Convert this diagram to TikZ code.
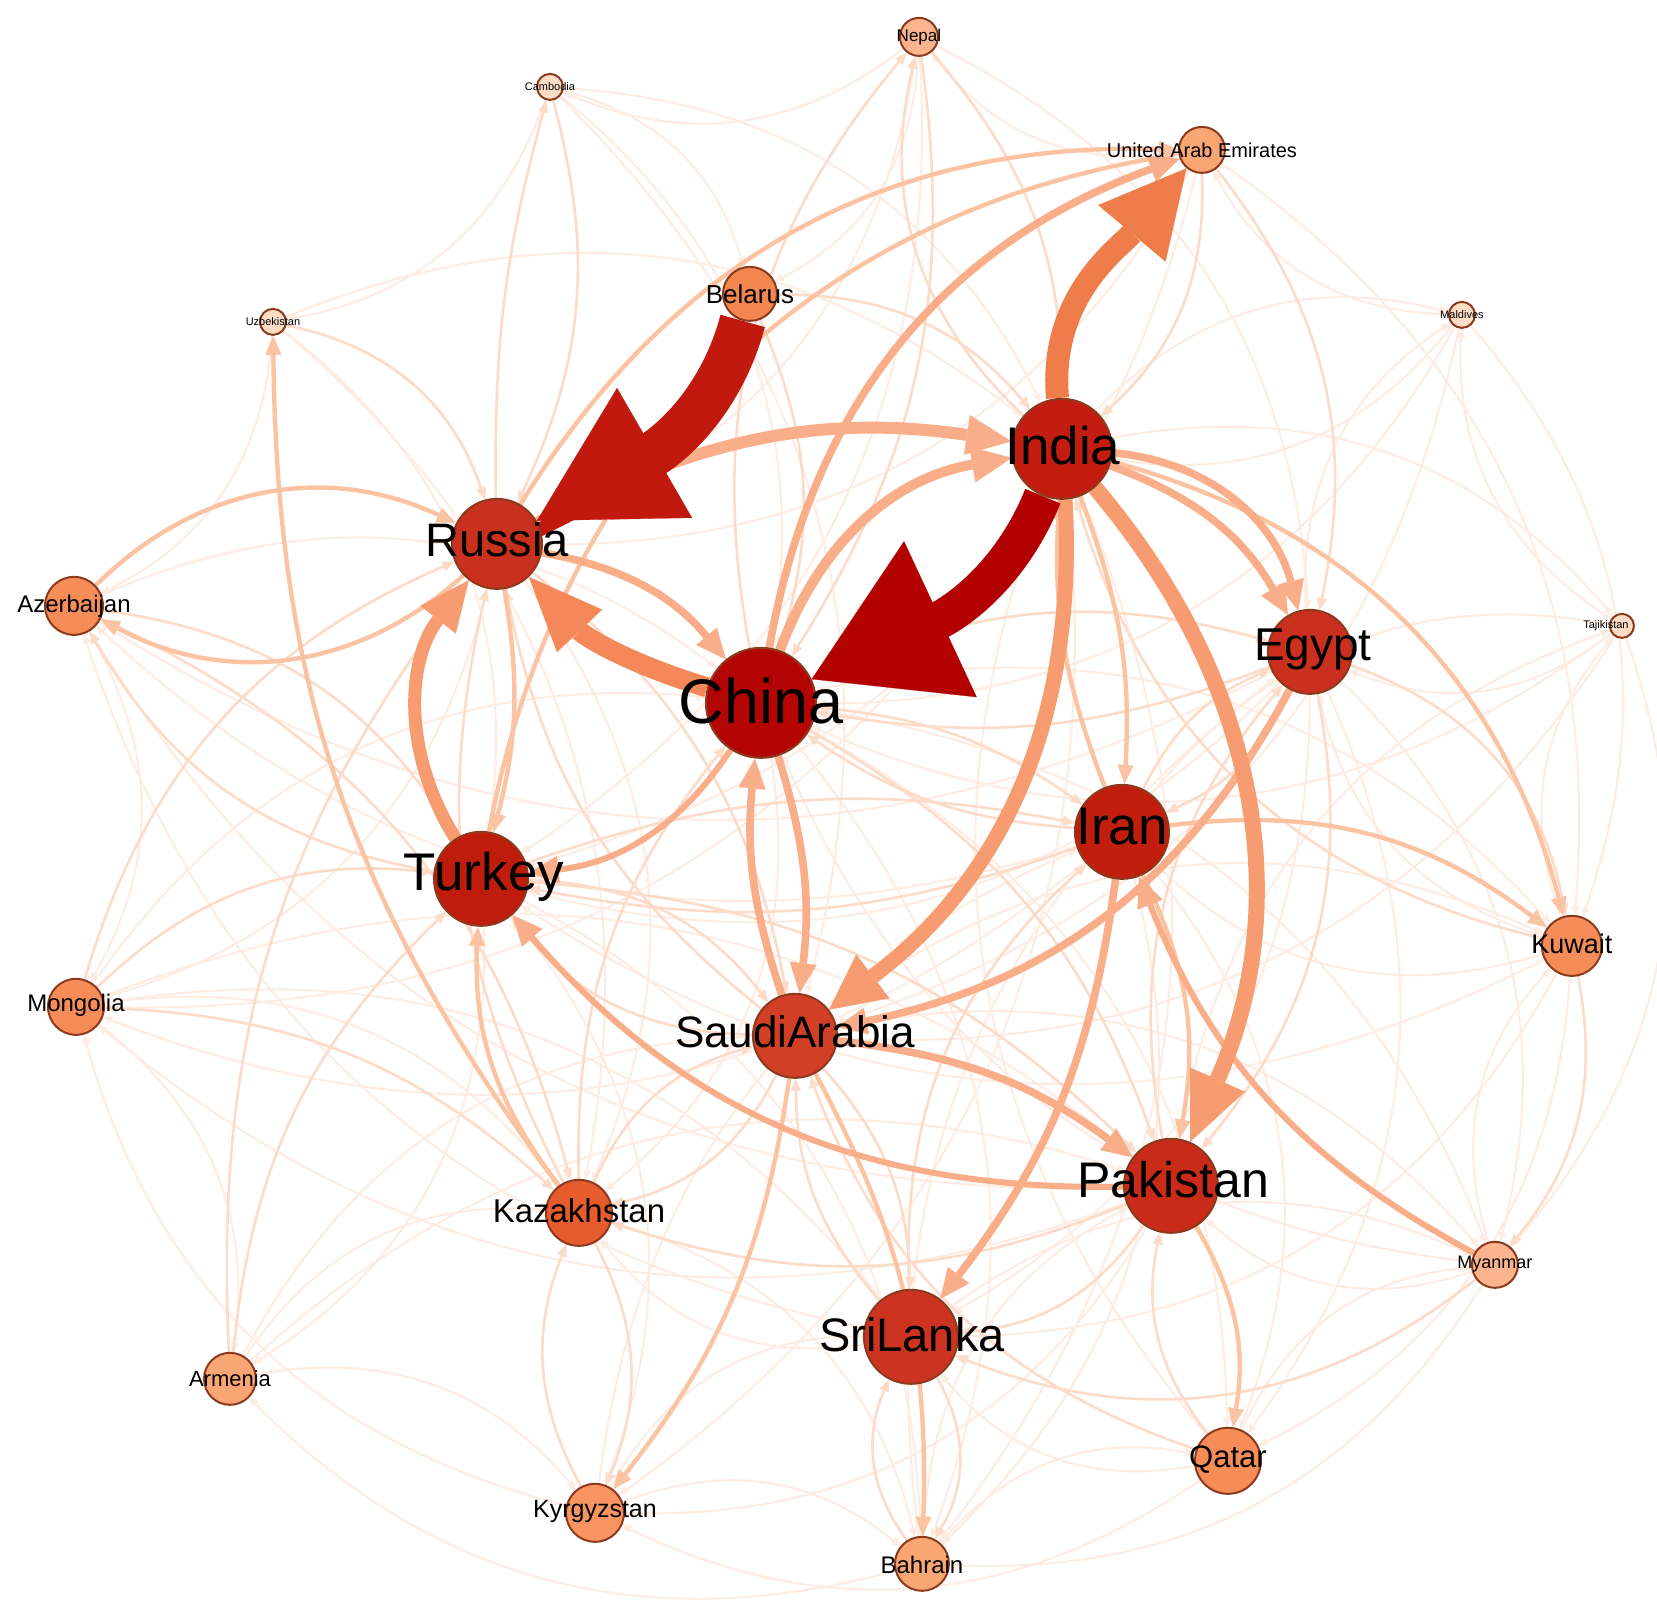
\documentclass[tikz,border=0pt]{standalone}
\usepackage{fontspec}
\setmainfont{Liberation Sans}
\usetikzlibrary{arrows.meta}
\pgfdeclarelayer{edges}
\pgfdeclarelayer{bg}
\pgfsetlayers{bg,edges,main}
\definecolor{cFaint}{HTML}{FDECE2}
\definecolor{cPale}{HTML}{FCDCC8}
\definecolor{cLight}{HTML}{FBC3A2}
\definecolor{cMid}{HTML}{F9AD88}
\definecolor{cMid2}{HTML}{F79C70}
\definecolor{cOrange}{HTML}{F48858}
\definecolor{cOrange2}{HTML}{EF7D4B}
\definecolor{cDarkA}{HTML}{C2190E}
\definecolor{cDarkB}{HTML}{B30000}
\definecolor{nbord}{HTML}{8C3A1E}
\definecolor{fChina}{HTML}{B50404}
\definecolor{fIndia}{HTML}{C21D10}
\definecolor{fRussia}{HTML}{C9301D}
\definecolor{fTurkey}{HTML}{C01C0C}
\definecolor{fIran}{HTML}{C11E0E}
\definecolor{fEgypt}{HTML}{CB2F1D}
\definecolor{fSaudi}{HTML}{D13F26}
\definecolor{fPak}{HTML}{C92B18}
\definecolor{fSri}{HTML}{CC3421}
\definecolor{fKaz}{HTML}{E65C2C}
\definecolor{fBel}{HTML}{F3874F}
\definecolor{fOr}{HTML}{F68D58}
\definecolor{fKyr}{HTML}{F89461}
\definecolor{fLt}{HTML}{F9A574}
\definecolor{fNep}{HTML}{FBB48E}
\definecolor{fTiny}{HTML}{FDDDC5}
\begin{document}
\begin{tikzpicture}[x=0.05pt,y=0.05pt,
 nd/.style={circle,draw=nbord,line width=0.1pt,inner sep=0pt,minimum size=#1},
 lbl/.style={font=\fontsize{#1}{#1}\selectfont,inner sep=0pt,text=black},
 fe/.style={draw=cFaint,line width=0.1pt,-{Triangle[length=0.45pt,width=0.4pt,line width=0.01pt]}},
 pe/.style={draw=cPale,line width=0.13pt,-{Triangle[length=0.6pt,width=0.5pt,line width=0.01pt]}},
 le/.style={draw=cLight,line width=0.22pt,-{Triangle[length=0.95pt,width=0.8pt,line width=0.01pt]}},
 me/.style={draw=cMid,line width=0.38pt,-{Triangle[length=1.5pt,width=1.35pt,line width=0.01pt]}},
]
\useasboundingbox (0,0) rectangle (1657,1608);
\begin{pgfonlayer}{bg}
\fill[white] (0,0) rectangle (1657,1608);
\end{pgfonlayer}

% nodes
\node[nd=1.9pt,fill=fNep]   (nep) at (919,1571) {};
\node[nd=1.3pt,fill=fTiny]  (cam) at (550,1521) {};
\node[nd=2.3pt,fill=fLt]    (uae) at (1202,1458) {};
\node[nd=2.7pt,fill=fBel]   (bel) at (750,1314) {};
\node[nd=1.3pt,fill=fTiny]  (uzb) at (273,1286) {};
\node[nd=1.3pt,fill=fTiny]  (mal) at (1462,1293) {};
\node[nd=5pt,fill=fIndia]   (ind) at (1062,1159) {};
\node[nd=4.5pt,fill=fRussia] (rus) at (497,1064) {};
\node[nd=2.9pt,fill=fOr]    (aze) at (74,1002) {};
\node[nd=1.2pt,fill=fTiny]  (taj) at (1622,982) {};
\node[nd=4.2pt,fill=fEgypt] (egy) at (1310,956) {};
\node[nd=5.5pt,fill=fChina] (chn) at (761,905) {};
\node[nd=4.7pt,fill=fIran]  (irn) at (1122,776) {};
\node[nd=4.7pt,fill=fTurkey] (tur) at (481,729) {};
\node[nd=3pt,fill=fOr]      (kuw) at (1572,662) {};
\node[nd=2.8pt,fill=fOr]    (mon) at (76,601) {};
\node[nd=4.2pt,fill=fSaudi] (sau) at (795,572) {};
\node[nd=4.7pt,fill=fPak]   (pak) at (1171,422) {};
\node[nd=3.3pt,fill=fKaz]   (kaz) at (579,395) {};
\node[nd=2.3pt,fill=fNep]   (mya) at (1495,343) {};
\node[nd=4.7pt,fill=fSri]   (sri) at (911,271) {};
\node[nd=2.6pt,fill=fLt]    (arm) at (230,229) {};
\node[nd=3.3pt,fill=fOr]    (qat) at (1228,147) {};
\node[nd=2.9pt,fill=fKyr]   (kyr) at (595,95) {};
\node[nd=2.7pt,fill=fLt]    (bah) at (922,44) {};

\begin{pgfonlayer}{edges}
% faint edges
\foreach \a/\b in {aze/mon, mon/arm, arm/kyr, kyr/bah, bah/qat, qat/mya, mya/kuw, kuw/taj, taj/mal, mal/uae, uae/nep, nep/cam, cam/uzb, uzb/aze, mon/kaz, arm/kaz, kyr/sri, bah/pak, qat/sri, mya/pak, kuw/egy, taj/egy, mal/ind, nep/bel, cam/bel, uzb/rus, ind/taj, ind/mal, egy/mal, irn/taj, pak/taj, sri/mya, kaz/bah, mon/sri, arm/sau, aze/chn, mon/chn, uzb/tur, cam/chn, nep/egy, uae/kuw, mal/kuw, taj/mya, kuw/qat, mya/bah, qat/kyr, bah/arm, kyr/mon, tur/kyr, tur/arm, tur/bah, rus/kaz, rus/mon, chn/kaz, chn/bah, chn/qat, chn/mya, chn/kuw, sau/mya, sau/kuw, sri/kaz, pak/kyr, irn/qat, irn/bah, egy/sri, egy/mya, egy/qat, kuw/sri, kuw/irn, ind/bah, ind/kyr, ind/mon, irn/mon, irn/aze, egy/aze, egy/tur, kuw/tur, pak/aze, pak/mon, sri/aze, taj/chn, mal/chn, uae/rus, cam/ind, uzb/ind, arm/pak, mon/pak, kyr/irn, bah/egy, qat/ind, mya/chn, taj/sau, mal/sau, uae/tur, nep/rus, nep/tur, cam/sau, uzb/kaz}
  \draw[fe] (\a) to[bend left=30] (\b);
% pale edges
\foreach \a/\b/\c in {rus/cam/8, uzb/rus/30, aze/tur/25, mon/rus/25, arm/rus/20, nep/ind/20, ind/nep/30, uae/egy/25, egy/kuw/30, kuw/mya/25, mya/sri/30, bah/sri/30, sri/bah/30, kaz/kyr/25, kyr/kaz/25, pak/sri/25, qat/sau/25, tur/sau/25, tur/pak/20, sau/tur/25, chn/egy/20, chn/pak/20, chn/irn/15, irn/chn/15, irn/tur/15, tur/irn/15, egy/chn/15, kaz/sau/25, sau/kaz/25, kaz/chn/20, rus/sau/20, sau/rus/20, kaz/rus/20, arm/tur/20, mon/tur/25, aze/kaz/25, tur/aze/25, mon/kaz/20, egy/irn/20, irn/egy/20, pak/egy/25, egy/pak/25, sri/irn/25, qat/pak/25, sau/sri/20, sri/sau/20, kuw/ind/30, bel/chn/20, bel/ind/25, uae/ind/25, nep/chn/20, cam/rus/20, chn/nep/25, pak/kaz/20}
  \draw[pe] (\a) to[bend left=\c] (\b);
% light edges
\foreach \a/\b/\c in {aze/rus/35, rus/aze/35, rus/tur/12, ind/kuw/30, irn/kuw/22, kaz/uzb/18, pak/qat/20, irn/pak/18, ind/irn/12, irn/ind/12, sau/kyr/15, rus/uae/30, tur/uae/35, sau/bah/15, kaz/tur/20}
  \draw[le] (\a) to[bend left=\c] (\b);
% medium edges
\foreach \a/\b/\c in {chn/uae/30, ind/egy/20, chn/sau/12, sau/chn/12, sau/pak/15, egy/sau/25, irn/sri/15, ind/egy/35, rus/chn/20}
  \draw[me] (\a) to[bend left=\c] (\b);
\foreach \a/\b/\c in {pak/tur/25, mya/irn/20, chn/tur/25}
  \draw[me,line width=0.3pt] (\a) to[bend left=\c] (\b);
% strong edges
\draw[draw=cMid,line width=0.5pt,-{Triangle[length=2pt,width=1.8pt,line width=0.01pt]}] (chn) to[bend left=30] (ind);
\draw[draw=cMid,line width=0.6pt,-{Triangle[length=2.25pt,width=2pt,line width=0.01pt]}] (rus) to[bend left=18] (ind);
\draw[draw=cMid2,line width=0.65pt,-{Triangle[length=2.5pt,width=2.25pt,line width=0.01pt]}] (tur) to[bend left=35] (rus);
\draw[draw=cMid2,line width=0.75pt,-{Triangle[length=2.75pt,width=2.75pt,line width=0.01pt]}] (ind) to[bend left=28] (sau);
\draw[draw=cMid2,line width=0.8pt,-{Triangle[length=3.4pt,width=3pt,line width=0.01pt]}] (ind) to[bend left=32] (pak);
\draw[draw=cOrange,line width=1pt,-{Triangle[length=3.7pt,width=3.1pt,line width=0.01pt]}] (chn) to[bend left=15] (rus);
\draw[draw=cOrange2,line width=1.15pt,-{Triangle[length=4.25pt,width=4.4pt,line width=0.01pt]}] (ind) to[out=95,in=230] (uae);
\draw[draw=cDarkA,line width=2.3pt,-{Triangle[length=6.8pt,width=7.5pt,line width=0.01pt]}] (bel) to[out=255,in=30] (rus);
\draw[draw=cDarkB,line width=1.9pt,-{Triangle[length=7.1pt,width=8.6pt,line width=0.01pt]}] (ind) to[out=248,in=25] (chn);
\end{pgfonlayer}

% labels
\node[lbl=0.85] (nepL) at (nep) {Nepal};
\node[lbl=0.55] (camL) at (cam) {Cambodia};
\node[lbl=1.0]  (uaeL) at (uae) {United Arab Emirates};
\node[lbl=1.3]  (belL) at (bel) {Belarus};
\node[lbl=0.55] (uzbL) at (uzb) {Uzbekistan};
\node[lbl=0.55] (malL) at (mal) {Maldives};
\node[lbl=2.65] (indL) at (1063,1162) {India};
\node[lbl=2.35] (rusL) at (497,1068) {Russia};
\node[lbl=1.2]  (azeL) at (74,1002) {Azerbaijan};
\node[lbl=0.55] (tajL) at (1606,982) {Tajikistan};
\node[lbl=2.3]  (egyL) at (1313,958) {Egypt};
\node[lbl=3.15] (chnL) at (761,907) {China};
\node[lbl=2.65] (irnL) at (1122,781) {Iran};
\node[lbl=2.65] (turL) at (484,731) {Turkey};
\node[lbl=1.35] (kuwL) at (1572,664) {Kuwait};
\node[lbl=1.2]  (monL) at (76,603) {Mongolia};
\node[lbl=2.2]  (sauL) at (795,576) {SaudiArabia};
\node[lbl=2.5]  (pakL) at (1173,428) {Pakistan};
\node[lbl=1.65] (kazL) at (579,397) {Kazakhstan};
\node[lbl=0.9]  (myaL) at (1495,344) {Myanmar};
\node[lbl=2.35] (sriL) at (912,273) {SriLanka};
\node[lbl=1.1]  (armL) at (230,229) {Armenia};
\node[lbl=1.55] (qatL) at (1228,148) {Qatar};
\node[lbl=1.25] (kyrL) at (595,96) {Kyrgyzstan};
\node[lbl=1.2]  (bahL) at (922,43) {Bahrain};
\end{tikzpicture}
\end{document}
